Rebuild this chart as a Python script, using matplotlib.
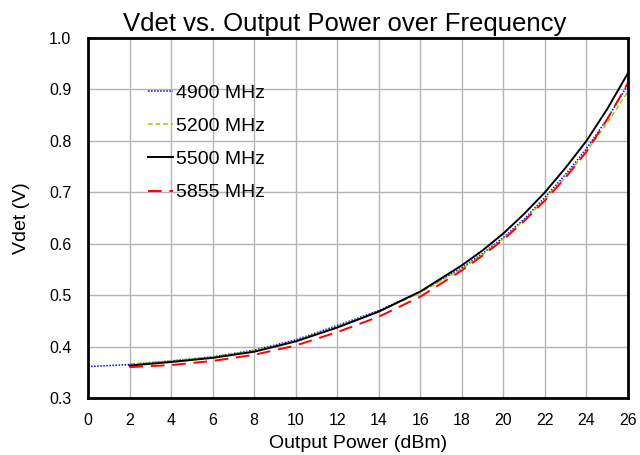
import matplotlib
matplotlib.use("Agg")
import matplotlib.pyplot as plt

plt.rcParams['font.family'] = ['Liberation Sans', 'DejaVu Sans']

# Output power (dBm)
p_4900 = [0, 2, 4, 6, 8, 10, 12, 14, 16, 18, 19, 20, 21, 22, 23, 24, 25, 26]
p_other = [2, 4, 6, 8, 10, 12, 14, 16, 18, 19, 20, 21, 22, 23, 24, 25, 26]

# Vdet (V)
v_4900 = [0.361, 0.365, 0.372, 0.380, 0.393, 0.413, 0.441, 0.470, 0.507, 0.553,
          0.581, 0.612, 0.648, 0.690, 0.735, 0.785, 0.843, 0.910]
v_5200 = [0.366, 0.372, 0.380, 0.392, 0.411, 0.439, 0.468, 0.505, 0.551,
          0.579, 0.610, 0.646, 0.686, 0.730, 0.780, 0.835, 0.896]
v_5500 = [0.363, 0.370, 0.378, 0.390, 0.410, 0.437, 0.468, 0.507, 0.558,
          0.587, 0.620, 0.658, 0.700, 0.748, 0.800, 0.862, 0.932]
v_5855 = [0.360, 0.364, 0.372, 0.384, 0.402, 0.428, 0.458, 0.497, 0.548,
          0.577, 0.608, 0.644, 0.684, 0.729, 0.779, 0.842, 0.913]

fig = plt.figure(figsize=(6.4, 4.55), dpi=100)
ax = fig.add_axes([0.1375, 0.1253, 0.8438, 0.7912])

ax.plot(p_4900, v_4900, color='#0000ff', linestyle=(0, (1, 1)), lw=1.1, label='4900 MHz')
ax.plot(p_other, v_5200, color='#99cc00', linestyle=(0, (3, 2)), lw=1.1, label='5200 MHz')
ax.plot(p_other, v_5500, color='black', linestyle='-', lw=1.4, label='5500 MHz')
ax.plot(p_other, v_5855, color='#ff0000', linestyle=(0, (7, 4)), lw=1.4, label='5855 MHz')

ax.set_xlim(0, 26)
ax.set_ylim(0.3, 1.0)
ax.set_xticks(range(0, 27, 2))
ax.set_yticks([0.3, 0.4, 0.5, 0.6, 0.7, 0.8, 0.9, 1.0])
ax.set_yticklabels(['0.3', '0.4', '0.5', '0.6', '0.7', '0.8', '0.9', '1.0'])
ax.tick_params(axis='x', length=0, labelsize=11.5, pad=11)
ax.tick_params(axis='y', length=0, labelsize=11.5, pad=12)
ax.grid(True, color='#b4b4b4', lw=1)
for s in ax.spines.values():
    s.set_linewidth(2)

ax.set_title('Vdet vs. Output Power over Frequency', fontsize=18.5, x=0.476, pad=5)
ax.set_xlabel('Output Power (dBm)', fontsize=14, labelpad=5)
ax.set_ylabel('Vdet (V)', fontsize=14, labelpad=14)

ax.legend(loc='upper left', bbox_to_anchor=(0.079, 0.92), frameon=False, fontsize=14,
          handlelength=1.3, handletextpad=0.15, labelspacing=0.8)

fig.savefig('out.png', dpi=100)
